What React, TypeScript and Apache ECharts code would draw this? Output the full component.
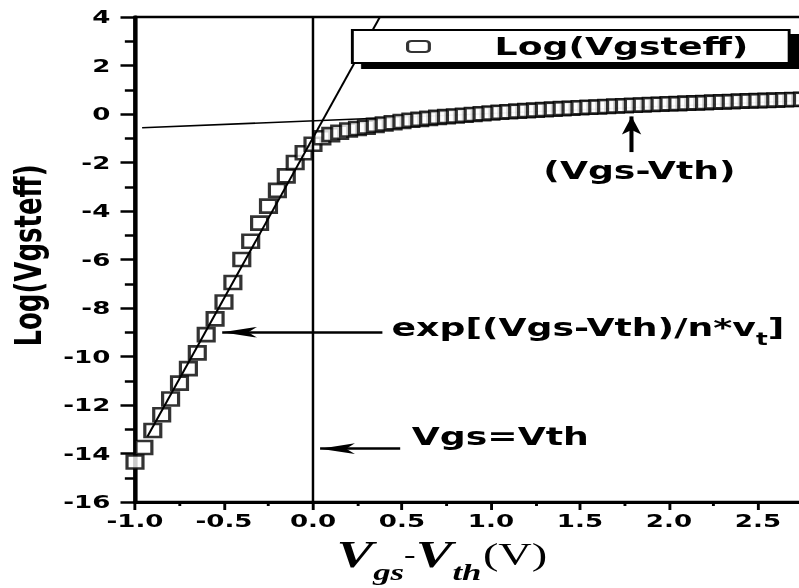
import React, { useEffect, useRef } from 'react';
import * as echarts from 'echarts';

// The reference is horizontally stretched; draw at narrower width and stretch with CSS.
const STRETCH = 1.45;
const CHART_W = 551;
const CHART_H = 588;

const seriesName = 'Log(Vgsteff)';

const vgsMinusVth = [
  -1.0, -0.95, -0.9, -0.85, -0.8, -0.75, -0.7, -0.65, -0.6, -0.55,
  -0.5, -0.45, -0.4, -0.35, -0.3, -0.25, -0.2, -0.15, -0.1, -0.05,
  0.0, 0.05, 0.1, 0.15, 0.2, 0.25, 0.3, 0.35, 0.4, 0.45,
  0.5, 0.55, 0.6, 0.65, 0.7, 0.75, 0.8, 0.85, 0.9, 0.95,
  1.0, 1.05, 1.1, 1.15, 1.2, 1.25, 1.3, 1.35, 1.4, 1.45,
  1.5, 1.55, 1.6, 1.65, 1.7, 1.75, 1.8, 1.85, 1.9, 1.95,
  2.0, 2.05, 2.1, 2.15, 2.2, 2.25, 2.3, 2.35, 2.4, 2.45,
  2.5, 2.55, 2.6, 2.65, 2.7, 2.75,
];

const logVgsteff = [
  -14.35, -13.75, -13.05, -12.4, -11.75, -11.1, -10.5, -9.85, -9.1, -8.45,
  -7.75, -6.95, -6.0, -5.25, -4.5, -3.8, -3.15, -2.55, -2.0, -1.6,
  -1.25, -0.98, -0.85, -0.75, -0.66, -0.6, -0.54, -0.47, -0.41, -0.36,
  -0.31, -0.26, -0.22, -0.18, -0.14, -0.11, -0.08, -0.05, -0.02, 0.01,
  0.04, 0.07, 0.09, 0.12, 0.14, 0.16, 0.18, 0.2, 0.22, 0.24,
  0.26, 0.28, 0.29, 0.31, 0.33, 0.34, 0.36, 0.37, 0.39, 0.4,
  0.42, 0.43, 0.45, 0.46, 0.47, 0.49, 0.5, 0.51, 0.53, 0.54,
  0.55, 0.56, 0.57, 0.59, 0.6, 0.61,
];

// asymptote lines
const expAsymptote = [[-0.93, -13.3], [0.376, 4.0]];
const strongAsymptote = [[-0.96, -0.57], [2.75, 0.55]];
const thresholdLine = [[0, -16], [0, 4]];

// arrows: [tail, tip]
const expArrow = [[0.39, -9.0], [-0.51, -9.0]];
const vthArrow = [[0.49, -13.8], [0.04, -13.8]];
const upArrow = [[1.79, -1.57], [1.79, -0.1]];

const X_MIN = -1.0;
const X_MAX = 3.0;
const Y_MIN = -16;
const Y_MAX = 4;

const FONT = 'DejaVu Sans';
const SERIF = 'Liberation Serif';

export default function App() {
  const ref = useRef<HTMLDivElement>(null);

  useEffect(() => {
    if (!ref.current) return;
    const chart = echarts.init(ref.current, null, { renderer: 'svg' });
    const points = vgsMinusVth.map((x, i) => [x, logVgsteff[i]]);

    const annText = (extra: any) => ({
      type: 'text',
      z: 20,
      ...extra,
    });

    chart.setOption({
      animation: false,
      backgroundColor: '#fff',
      grid: {
        left: 93.1,
        top: 17,
        width: 491,
        height: 485,
        outerBoundsMode: 'none',
        containLabel: false,
        show: true,
        borderColor: '#000',
        borderWidth: 2.5,
        backgroundColor: 'transparent',
      },
      legend: {
        data: [{ name: seriesName, icon: 'roundRect' }],
        left: 243,
        top: 30,
        orient: 'horizontal',
        z: 10,
        itemWidth: 15,
        itemHeight: 11,
        itemStyle: { color: '#fff', borderColor: '#000', borderWidth: 2.2 },
        padding: [4, 28, 4, 37],
        backgroundColor: '#fff',
        borderColor: '#000',
        borderWidth: 2,
        shadowColor: '#000',
        shadowBlur: 0,
        shadowOffsetX: 7,
        shadowOffsetY: 5,
        textStyle: {
          fontFamily: FONT,
          fontWeight: 'bold',
          fontSize: 25,
          color: '#000',
          padding: [0, 0, 0, 40],
        },
      },
      xAxis: {
        type: 'value',
        min: X_MIN,
        max: X_MAX,
        interval: 0.5,
        axisLine: { show: true, onZero: false, lineStyle: { color: '#000', width: 2.8 } },
        axisTick: { show: true, length: 8, lineStyle: { color: '#000', width: 2 } },
        minorTick: { show: true, splitNumber: 2, length: 4, lineStyle: { color: '#000', width: 2 } },
        splitLine: { show: false },
        axisLabel: {
          color: '#000',
          fontFamily: FONT,
          fontWeight: 'bold',
          fontSize: 18,
          margin: 10,
          showMaxLabel: false,
          formatter: (v: number) => v.toFixed(1),
        },
      },
      yAxis: {
        type: 'value',
        min: Y_MIN,
        max: Y_MAX,
        interval: 2,
        name: 'Log(Vgsteff)',
        nameLocation: 'middle',
        nameGap: 56,
        nameRotate: 90,
        nameTextStyle: {
          fontFamily: FONT,
          fontWeight: 'bold',
          fontSize: 26,
          color: '#000',
          padding: [0, 0, 0, 8],
        },
        axisLine: { show: true, onZero: false, lineStyle: { color: '#000', width: 2.8 } },
        axisTick: { show: true, length: 10, lineStyle: { color: '#000', width: 2.5 } },
        minorTick: { show: true, splitNumber: 2, length: 7, lineStyle: { color: '#000', width: 2.5 } },
        splitLine: { show: false },
        axisLabel: {
          color: '#000',
          fontFamily: FONT,
          fontWeight: 'bold',
          fontSize: 18,
          margin: 17,
        },
      },
      series: [
        {
          type: 'line',
          name: 'strong',
          data: strongAsymptote,
          showSymbol: false,
          symbol: 'none',
          z: 1,
          lineStyle: { color: '#000', width: 1.6 },
          silent: true,
        },
        {
          type: 'scatter',
          name: seriesName,
          data: points,
          symbol: 'rect',
          symbolSize: [11, 13],
          z: 2,
          itemStyle: { color: '#fff', borderColor: '#000', borderWidth: 2.4 },
        },
        {
          type: 'line',
          name: 'exp',
          data: expAsymptote,
          showSymbol: false,
          symbol: 'none',
          z: 3,
          lineStyle: { color: '#000', width: 1.5 },
          silent: true,
        },
        {
          type: 'line',
          name: 'vth',
          data: thresholdLine,
          showSymbol: false,
          symbol: 'none',
          z: 3,
          lineStyle: { color: '#000', width: 1.7 },
          silent: true,
          markLine: {
            silent: true,
            symbol: ['none', 'arrow'],
            label: { show: false },
            lineStyle: { color: '#000', type: 'solid', width: 2.5 },
            data: [
              [
                { coord: expArrow[0] },
                { coord: expArrow[1], symbol: 'arrow', symbolSize: [8, 24] },
              ],
              [
                { coord: vthArrow[0] },
                { coord: vthArrow[1], symbol: 'arrow', symbolSize: [8, 24] },
              ],
              [
                { coord: upArrow[0], lineStyle: { width: 2.8 } },
                { coord: upArrow[1], symbol: 'arrow', symbolSize: [10, 18] },
              ],
            ],
          },
        },
      ],
      graphic: [
        annText({
          left: 270,
          top: 315,
          style: {
            text: '{a|exp[(Vgs-Vth)/n*v}{b|t}{a|]}',
            fill: '#000',
            rich: {
              a: { fontFamily: FONT, fontWeight: 'bold', fontSize: 25, lineHeight: 30, verticalAlign: 'top' },
              b: { fontFamily: FONT, fontWeight: 'bold', fontSize: 17, lineHeight: 18, verticalAlign: 'top', padding: [15, 0, 0, 0] },
            },
          },
        }),
        annText({
          x: 441,
          y: 158,
          style: {
            text: '(Vgs-Vth)',
            fill: '#000',
            fontFamily: FONT,
            fontWeight: 'bold',
            fontSize: 25,
            align: 'center',
            verticalAlign: 'top',
          },
        }),
        annText({
          x: 284,
          y: 424,
          style: {
            text: 'Vgs=Vth',
            fill: '#000',
            fontFamily: FONT,
            fontWeight: 'bold',
            fontSize: 25,
            verticalAlign: 'top',
          },
        }),
        annText({
          x: 232,
          y: 535,
          style: {
            text: '{v|V}{s|gs}{d|-}{v|V}{s|th}{p|(V)}',
            fill: '#000',
            verticalAlign: 'top',
            rich: {
              v: { fontFamily: SERIF, fontStyle: 'italic', fontWeight: 'bold', fontSize: 38, lineHeight: 44, verticalAlign: 'top' },
              s: { fontFamily: SERIF, fontStyle: 'italic', fontWeight: 'bold', fontSize: 24, lineHeight: 24, verticalAlign: 'top', padding: [25, 0, 0, 0] },
              d: { fontFamily: SERIF, fontWeight: 'bold', fontSize: 24, lineHeight: 24, verticalAlign: 'top', padding: [8, 0, 0, 0] },
              p: { fontFamily: SERIF, fontWeight: 'normal', fontSize: 32, lineHeight: 44, verticalAlign: 'top', padding: [3, 0, 0, 1] },
            },
          },
        }),
      ],
    });

    return () => {
      chart.dispose();
    };
  }, []);

  return (
    <div
      style={{
        position: 'fixed',
        left: 0,
        top: 0,
        width: 799,
        height: 588,
        overflow: 'hidden',
        background: '#fff',
      }}
    >
      <div
        ref={ref}
        style={{
          width: CHART_W,
          height: CHART_H,
          transform: `scaleX(${STRETCH})`,
          transformOrigin: '0 0',
        }}
      />
    </div>
  );
}
